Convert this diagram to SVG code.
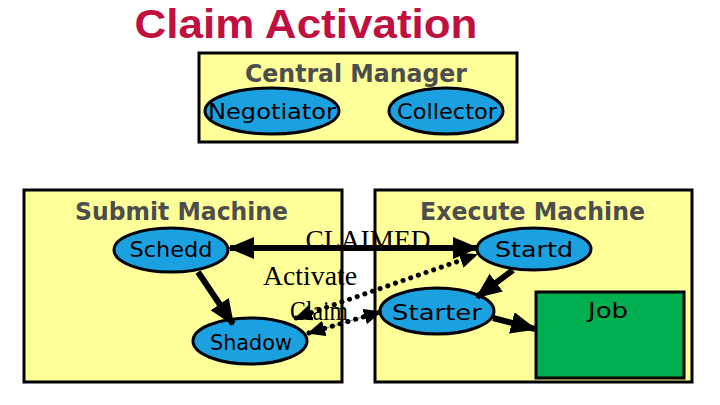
<svg xmlns="http://www.w3.org/2000/svg" width="720" height="405" viewBox="0 0 720 405">
<defs>
<style>
.box{fill:#FFFF99;stroke:#000;stroke-width:3}
.node{fill:#1CA1E0;stroke:#000;stroke-width:3}
.lbl{font-family:"DejaVu Sans","Noto Sans",sans-serif;fill:#4D4D4D;font-size:24px;font-weight:bold}
.ntx{font-family:"DejaVu Sans","Noto Sans",sans-serif;fill:#000;font-size:21px;text-anchor:middle}
.ser{font-family:"Liberation Serif","Times New Roman",serif;fill:#000;font-size:27px}
.thick{stroke:#000;stroke-width:6;fill:none}
.dot{stroke:#000;stroke-width:5;fill:none;stroke-dasharray:0.1 8;stroke-linecap:round}
</style>
<marker id="ah" viewBox="0 0 26 22" refX="24" refY="11" markerWidth="26" markerHeight="22" markerUnits="userSpaceOnUse" orient="auto-start-reverse">
<path d="M0,0 L26,11 L0,22 Z" fill="#000"/>
</marker>
<marker id="ahs" viewBox="0 0 18 16" refX="16" refY="8" markerWidth="18" markerHeight="16" markerUnits="userSpaceOnUse" orient="auto-start-reverse">
<path d="M0,0 L18,8 L0,16 Z" fill="#000"/>
</marker>
</defs>
<rect width="720" height="405" fill="#fff"/>
<text x="306" y="38" font-family="Liberation Sans,Arial,sans-serif" font-weight="bold" font-size="40" fill="#C0103F" text-anchor="middle" textLength="343" lengthAdjust="spacingAndGlyphs">Claim Activation</text>

<g id="central-manager">
<rect class="box" x="199" y="53" width="318" height="89"/>
<text class="lbl" x="245" y="82" textLength="222" lengthAdjust="spacingAndGlyphs">Central Manager</text>
</g>
<g id="negotiator">
<ellipse class="node" cx="272" cy="111" rx="67" ry="23"/>
<text class="ntx" x="272" y="119" textLength="128" lengthAdjust="spacingAndGlyphs">Negotiator</text>
</g>
<g id="collector">
<ellipse class="node" cx="446" cy="111" rx="57" ry="23"/>
<text class="ntx" x="447" y="119" textLength="100" lengthAdjust="spacingAndGlyphs">Collector</text>
</g>

<g id="submit-machine">
<rect class="box" x="24" y="190" width="318" height="192"/>
<text class="lbl" x="75" y="220" textLength="213" lengthAdjust="spacingAndGlyphs">Submit Machine</text>
</g>
<g id="execute-machine">
<rect class="box" x="375" y="190" width="317" height="192"/>
<text class="lbl" x="420" y="220" textLength="225" lengthAdjust="spacingAndGlyphs">Execute Machine</text>
</g>

<g id="schedd">
<ellipse class="node" cx="171" cy="250" rx="57" ry="22"/>
<text class="ntx" x="171" y="257" textLength="83" lengthAdjust="spacingAndGlyphs">Schedd</text>
</g>
<g id="shadow">
<ellipse class="node" cx="250" cy="341" rx="57" ry="23"/>
<text class="ntx" x="251" y="350" textLength="82" lengthAdjust="spacingAndGlyphs">Shadow</text>
</g>
<g id="startd">
<ellipse class="node" cx="534" cy="249" rx="57" ry="21"/>
<text class="ntx" x="534" y="257" textLength="78" lengthAdjust="spacingAndGlyphs">Startd</text>
</g>
<g id="starter">
<ellipse class="node" cx="437" cy="311" rx="57" ry="23"/>
<text class="ntx" x="437" y="320" textLength="90" lengthAdjust="spacingAndGlyphs">Starter</text>
</g>
<g id="job">
<rect x="536" y="292" width="148" height="86" fill="#00B050" stroke="#000" stroke-width="3"/>
<text class="ntx" x="608" y="318" textLength="40" lengthAdjust="spacingAndGlyphs">Job</text>
</g>

<g id="labels">
<text class="ser" x="368" y="249" text-anchor="middle" textLength="125" lengthAdjust="spacingAndGlyphs">CLAIMED</text>
<text class="ser" x="263" y="285" textLength="94" lengthAdjust="spacingAndGlyphs">Activate</text>
<text class="ser" x="290" y="320" textLength="58" lengthAdjust="spacingAndGlyphs">Claim</text>
</g>

<g id="connectors">
<path class="thick" d="M230,248 L477,248" marker-start="url(#ah)" marker-end="url(#ah)"/>
<path class="thick" d="M198,272 L233,324" marker-end="url(#ah)"/>
<path class="thick" d="M513,270 L477,297" marker-end="url(#ah)"/>
<path class="thick" d="M493,318 L535,329" marker-end="url(#ah)"/>
<path class="dot" d="M296,318 L476,255" marker-start="url(#ahs)" marker-end="url(#ahs)"/>
<path d="M310,333 L379,312" stroke="#6A8FA8" stroke-width="1"/>
<path class="dot" d="M309,333 L380,312" marker-start="url(#ahs)" marker-end="url(#ahs)"/>
</g>
</svg>
